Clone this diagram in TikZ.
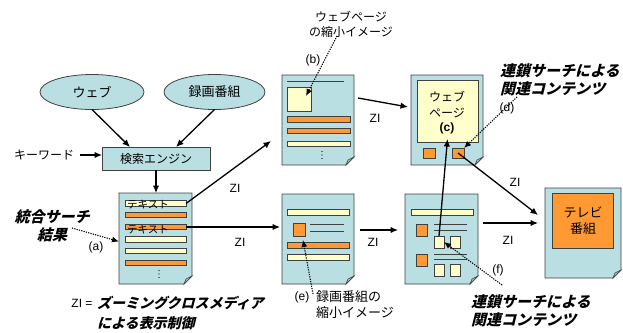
\documentclass[tikz,border=0pt]{standalone}
\usepackage{fontspec}
\setmainfont{Noto Sans CJK JP}
\newfontfamily\lat{Liberation Sans}
\newfontfamily\jpbi[FakeSlant=0.25]{Noto Sans CJK JP}
\usetikzlibrary{arrows.meta,calc,shapes.geometric}
\definecolor{lblue}{HTML}{BADFE3}
\definecolor{flapc}{HTML}{9CC6CB}
\definecolor{lyel}{HTML}{FFFFCC}
\definecolor{orng}{HTML}{FF9933}
\definecolor{bord}{HTML}{404040}
\begin{document}
\begin{tikzpicture}[x=1pt,y=-1pt,
  every node/.style={inner sep=0pt, outer sep=0pt},
  ell/.style={ellipse, draw=bord, fill=lblue, line width=0.8pt, minimum width=104pt, minimum height=35pt, font=\fontsize{13}{15}\selectfont},
  sbox/.style={rectangle, draw=bord, fill=lblue, line width=0.8pt},
  docn/.style={rectangle, minimum width=72pt, minimum height=90pt},
  ybar/.style={rectangle, draw=bord, fill=lyel, line width=0.6pt},
  obar/.style={rectangle, draw=bord, fill=orng, line width=0.6pt},
  thin/.style={draw=bord, line width=0.8pt},
  arr/.style={-{Latex[length=7.5pt,width=6.5pt]}, line width=1.3pt, black},
  dotarr/.style={-{Latex[length=7pt,width=6pt]}, line width=1.1pt, dash pattern=on 1.2pt off 1.2pt, black},
  zi/.style={font=\lat\fontsize{12}{14}\selectfont},
  jp/.style={font=\fontsize{12}{15}\selectfont},
  bi/.style={font=\jpbi\bfseries\fontsize{15}{18}\selectfont},
  vdot/.style={fill=black, circle, minimum size=1.4pt},
]
\useasboundingbox (0,0) rectangle (623,332);
% sources
\node[ell] (web) at (92,92) {ウェブ};
\node[ell, minimum width=101pt] (rec) at (214.5,92) {録画番組};
\node[sbox, minimum width=108pt, minimum height=23pt, jp] (se) at (156,158.5) {検索エンジン};
\node[jp, anchor=east] (kw) at (74,155) {キーワード};
% documents
\node[docn, minimum width=73pt, minimum height=91pt] (da) at (155.5,238.5) {};
\node[docn] (db) at (318,120) {};
\node[docn] (dc) at (447,120) {};
\node[docn] (de) at (318,239) {};
\node[docn, minimum width=73pt] (df) at (441.5,239) {};
\node[docn, minimum width=76pt] (dtv) at (583,233) {};
\foreach \d in {da,db,dc,de,df,dtv}{
  \filldraw[fill=lblue, draw=bord, line width=0.8pt] (\d.north west) -- (\d.north east) -- ([yshift=8pt]\d.south east) -- ([xshift=-8pt]\d.south east) -- (\d.south west) -- cycle;
  \filldraw[fill=flapc, draw=bord, line width=0.6pt] ([yshift=8pt]\d.south east) -- ([xshift=-6pt,yshift=5pt]\d.south east) -- ([xshift=-8pt]\d.south east) -- cycle;
}
% doc a
\node[ybar, minimum width=61pt, minimum height=5.5pt] (a1) at (155.5,203.5) {};
\node[obar, minimum width=61pt, minimum height=5.5pt] (a2) at (155.5,215) {};
\node[obar, minimum width=61pt, minimum height=5.5pt] (a3) at (155.5,227) {};
\node[ybar, minimum width=61pt, minimum height=5.5pt] (a4) at (155.5,239.5) {};
\node[ybar, minimum width=61pt, minimum height=5.5pt] (a5) at (155.5,251) {};
\node[obar, minimum width=61pt, minimum height=5.5pt] (a6) at (155.5,263) {};
\node[font=\fontsize{10.5}{11}\selectfont] (t1) at (148,205) {テキスト};
\node[font=\fontsize{10.5}{11}\selectfont] (t2) at (148,230) {テキスト};
\foreach \yy [count=\i] in {270.5,274,277.5} \node[vdot] (ad\i) at (159,\yy) {};
% doc b
\draw[thin] (287,81) -- (344,81);
\node[ybar, minimum width=24pt, minimum height=24pt] (bsq) at (299,99) {};
\node[obar, minimum width=63pt, minimum height=5.5pt] (b1) at (318.5,119.5) {};
\node[obar, minimum width=63pt, minimum height=5.5pt] (b2) at (318.5,131) {};
\node[ybar, minimum width=63pt, minimum height=5.5pt] (b3) at (318.5,144) {};
\foreach \yy [count=\i] in {151.5,155,158.5} \node[vdot] (bd\i) at (322,\yy) {};
% doc c
\node[ybar, minimum width=61pt, minimum height=62pt] (cin) at (447.5,111) {};
\node[jp] (cw1) at (447,97) {ウェブ};
\node[jp] (cw2) at (447,113) {ページ};
\node[font=\lat\bfseries\fontsize{12}{14}\selectfont] (clab) at (447,128) {(c)};
\node[obar, minimum width=12pt, minimum height=10pt] (co1) at (429,153) {};
\node[obar, minimum width=12pt, minimum height=10pt] (co2) at (458,153) {};
% doc e
\node[ybar, minimum width=62pt, minimum height=6pt] (e1) at (318,212) {};
\node[obar, minimum width=12pt, minimum height=13pt] (eo) at (299,229.5) {};
\draw[thin] (310,224) -- (344,224);
\draw[thin] (310,231) -- (344,231);
\node[obar, minimum width=62pt, minimum height=5.5pt] (e2) at (318,245.5) {};
\node[ybar, minimum width=62pt, minimum height=6pt] (e3) at (318,257) {};
% doc f
\node[ybar, minimum width=62pt, minimum height=6.5pt] (f1) at (442,212.5) {};
\node[obar, minimum width=11pt, minimum height=12pt] (fo1) at (421.5,230) {};
\draw[thin] (434,224) -- (467,224);
\draw[thin] (434,230) -- (467,230);
\node[ybar, minimum width=10pt, minimum height=12pt] (fy1) at (439,242) {};
\node[ybar, minimum width=10pt, minimum height=12pt] (fy2) at (455.5,242) {};
\node[obar, minimum width=11pt, minimum height=12pt] (fo2) at (421.5,260) {};
\draw[thin] (434,254) -- (467,254);
\draw[thin] (434,259) -- (467,259);
\node[ybar, minimum width=10pt, minimum height=12pt] (fy3) at (439,270) {};
\node[ybar, minimum width=10pt, minimum height=12pt] (fy4) at (455.5,270) {};
% TV
\node[obar, line width=0.8pt, minimum width=61pt, minimum height=55pt] (tvin) at (582.5,220.5) {};
\node[font=\fontsize{13}{16}\selectfont, align=center] (tvt) at (583,221) {テレビ\\番組};
% labels
\node[bi, align=center] (lab1) at (52,226) {統合サーチ\\結果};
\node[zi] (la) at (96,247) {(a)};
\node[zi] (zl) at (82,303) {ZI =};
\node[font=\jpbi\bfseries\fontsize{14}{20}\selectfont, align=left, anchor=west] (zm) at (97,313) {ズーミングクロスメディア\\による表示制御};
\node[jp, align=center] (lbimg) at (351,24) {ウェブページ\\の縮小イメージ};
\node[zi] (lb) at (313,60) {(b)};
\node[zi] (ld) at (507,108) {(d)};
\node[bi, align=left, anchor=west] (lrel1) at (500,80) {連鎖サーチによる\\関連コンテンツ};
\node[bi, align=left, anchor=west] (lrel2) at (471,311) {連鎖サーチによる\\関連コンテンツ};
\node[zi] (le) at (302,297) {(e)};
\node[font=\fontsize{13}{16}\selectfont, align=left, anchor=west] (lerec) at (316,305) {録画番組の\\縮小イメージ};
\node[zi] (lf) at (498,270) {(f)};
\node[zi] (z1) at (235,188) {ZI};
\node[zi] (z2) at (240,242) {ZI};
\node[zi] (z3) at (375,118) {ZI};
\node[zi] (z4) at (373,242) {ZI};
\node[zi] (z5) at (508,240) {ZI};
\node[zi] (z6) at (515,182) {ZI};
% arrows
\draw[arr] (web.south) -- ([xshift=-26pt]se.north);
\draw[arr] (rec.south) -- ([xshift=20pt]se.north);
\draw[arr] ([xshift=6pt]kw.east) -- (se.west |- kw.east);
\draw[arr] (se.south) -- (se.south |- da.north);
\coordinate (bt) at (271,141);
\draw[arr] (a1.east) -- (bt);
\draw[arr] (a3.east) -- ([xshift=-2pt]a3.east -| de.west);
\draw[arr] ($(db.north east)+(4,23)$) -- ($(dc.north west)+(-3,32)$);
\draw[arr] ($(de.east)+(6,-9)$) -- ($(df.west)+(-7,-9)$);
\draw[arr] ($(df.east)+(5,-16)$) -- ($(dtv.west)+(-7,-10)$);
\draw[arr] (fy1.north) -- ([yshift=3pt]cin.south);
\draw[arr] (co2.center) -- ($(dtv.north west)+(-7,27)$);
% dotted pointers
\coordinate (pa) at (72,228);
\draw[dotarr] (pa) -- ($(da.west)+(0,3)$);
\coordinate (pb) at (337,36);
\draw[dotarr] (pb) -- ($(bsq.center)+(7,-3)$);
\coordinate (pd) at (517,97);
\draw[dotarr] (pd) -- (co2.north east);
\coordinate (pe) at (313,294);
\draw[dotarr] (pe) -- ($(eo.south east)+(-2,4)$);
\coordinate (pf) at (502,285);
\draw[dotarr] (pf) -- (fy1.east);
\end{tikzpicture}
\end{document}
